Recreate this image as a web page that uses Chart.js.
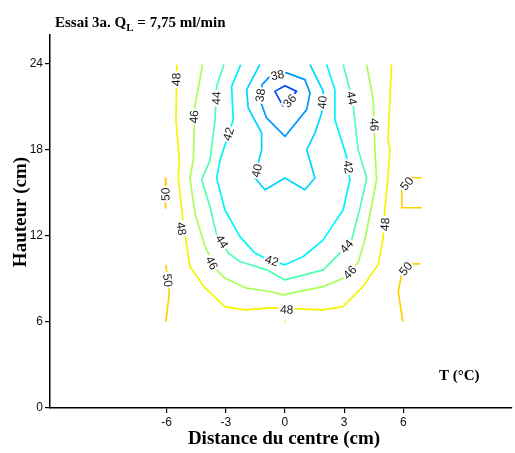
<!DOCTYPE html>
<html>
<head>
<meta charset="utf-8">
<script src="https://cdn.jsdelivr.net/npm/chart.js@4.4.0/dist/chart.umd.min.js"></script>
<style>
  body { margin: 0; background: #fff; }
</style>
</head>
<body>
<canvas id="isoChart" width="515" height="453"></canvas>
<script>
/* Isothermes T (°C) : x = distance du centre (cm), y = hauteur (cm) */
const ticksX = [-6, -3, 0, 3, 6];
const ticksY = [0, 6, 12, 18, 24];

const iso36 = [
    [[-0.09, 21.03], [-0.51, 22.07], [0, 22.47], [0.59, 22.07], [-0.09, 21.03]],
];
const iso38 = [
    [[-0.76, 23.12], [0.09, 23.36], [1.01, 22.89], [1.27, 21.96], [1.10, 20.80], [0, 18.93],
     [-0.93, 20.22], [-1.27, 21.49], [-1.16, 22.54], [-0.76, 23.12]],
];
const iso40 = [
    [[-1.27, 23.94], [-1.94, 22.19], [-1.86, 20.91], [-1.18, 19.17], [-1.18, 18.00], [-1.35, 17.08],
     [-1.52, 16.03], [-1.01, 15.21], [0, 16.03], [1.01, 15.21], [1.52, 16.03], [1.10, 18.00],
     [1.52, 19.17], [1.86, 20.57], [1.94, 22.07], [1.27, 23.94]],
];
const iso42 = [
    [[-2.24, 23.94], [-2.70, 22.42], [-2.62, 20.10], [-3.29, 17.26], [-3.46, 16.03], [-3.04, 13.82],
     [-2.28, 11.95], [-1.52, 10.80], [-0.85, 10.33], [0, 9.98], [0.93, 10.56], [1.94, 11.72],
     [2.95, 13.82], [3.29, 15.91], [3.12, 17.54], [2.53, 20.10], [2.53, 22.19], [2.11, 23.94]],
];
const iso44 = [
    [[-3.09, 23.94], [-3.46, 22.42], [-3.54, 20.10], [-3.80, 17.26], [-4.22, 15.91], [-3.80, 14.05],
     [-3.46, 12.07], [-2.87, 10.80], [-2.28, 10.21], [-0.93, 9.63], [0, 8.93], [1.94, 9.63],
     [2.78, 10.80], [3.38, 11.72], [3.80, 13.94], [4.14, 16.03], [3.71, 18.00], [3.46, 21.03],
     [3.29, 22.19], [2.95, 23.94]],
];
const iso46 = [
    [[-4.17, 23.94], [-4.56, 21.03], [-4.64, 17.31], [-4.81, 16.03], [-4.56, 13.59], [-4.05, 11.26],
     [-3.46, 9.63], [-3.04, 9.05], [-1.94, 8.35], [-0.76, 8.12], [-0.09, 7.89], [1.94, 8.46],
     [2.95, 9.05], [3.70, 10.12], [4.05, 11.72], [4.30, 13.47], [4.64, 15.91], [4.56, 18.00],
     [4.47, 21.49], [4.14, 23.94]],
];
const iso48 = [
    [[-5.47, 23.94], [-5.52, 20.10], [-5.35, 17.26], [-5.40, 16.05], [-5.15, 12.91], [-4.81, 9.86],
     [-4.05, 8.37], [-3.04, 7.07], [-2.03, 6.84], [-0.76, 6.98], [1.92, 6.84], [2.94, 7.07],
     [3.95, 8.46], [4.71, 9.98], [4.96, 11.72], [5.06, 13.82], [5.22, 16.14], [5.32, 18.00],
     [5.22, 18.70], [5.40, 23.94]],
    [[-0.03, 6.00], [0.03, 6.08]],
];
const iso50 = [
    [[-6.03, 16.03], [-6.05, 13.94]],
    [[-6.03, 9.98], [-5.86, 8.00], [-6.03, 6.02]],
    [[6.94, 16.05], [6.43, 16.05], [5.92, 15.21], [5.92, 13.96], [6.94, 13.96]],
    [[6.84, 10.05], [6.33, 10.05], [5.91, 9.35], [5.74, 8.12], [5.97, 6.02]],
];

const niveaux = [36, 38, 40, 42, 44, 46, 48, 50];
const isothermes = [iso36, iso38, iso40, iso42, iso44, iso46, iso48, iso50];

// [niveau, x, y] de chaque étiquette posée sur sa courbe
const etiquettes = [
    [36, 0.25, 21.40],
    [38, -0.38, 23.20], [38, -1.24, 21.80],
    [40, -1.42, 16.55], [40, 1.90, 21.30],
    [42, -2.85, 19.10], [42, -0.67, 10.26], [42, 3.20, 16.80],
    [44, -3.47, 21.60], [44, -3.20, 11.60], [44, 3.12, 11.26], [44, 3.37, 21.60],
    [46, -4.60, 20.30], [46, -3.71, 10.10], [46, 3.29, 9.45], [46, 4.51, 19.75],
    [48, -5.50, 22.90], [48, -5.25, 12.50], [48, 0.09, 6.86], [48, 5.08, 12.80],
    [50, -6.04, 14.90], [50, -5.95, 8.90], [50, 6.18, 15.63], [50, 6.12, 9.70],
];

const couleurs = {
    36: '#0048ff', 38: '#0096ff', 40: '#00d4ff', 42: '#00f6f6',
    44: '#50ffb0', 46: '#aaff55', 48: '#f4f400', 50: '#ffd000',
};

const datasets = [];
niveaux.forEach((niv, i) => {
    isothermes[i].forEach(trace => {
        datasets.push({
            label: 'T = ' + niv,
            data: trace.map(p => ({ x: p[0], y: p[1] })),
            showLine: true,
            borderColor: couleurs[niv],
            borderWidth: 1.7,
            borderJoinStyle: 'round',
            pointRadius: 0,
            fill: false,
            tension: 0,
        });
    });
});

/* Étiquettes des isothermes, orientées selon la courbe */
const etiquettesPlugin = {
    id: 'etiquettes',
    afterDatasetsDraw(chart) {
        const { ctx, scales: { x, y } } = chart;
        ctx.save();
        ctx.font = '12px "Liberation Sans", Arial, sans-serif';
        ctx.textAlign = 'center';
        ctx.textBaseline = 'middle';
        etiquettes.forEach(([niv, lx, ly]) => {
            const px = x.getPixelForValue(lx);
            const py = y.getPixelForValue(ly);
            // segment le plus proche pour l'angle
            let best = Infinity, ang = 0;
            isothermes[niveaux.indexOf(niv)].forEach(trace => {
                for (let k = 0; k < trace.length - 1; k++) {
                    const ax = x.getPixelForValue(trace[k][0]), ay = y.getPixelForValue(trace[k][1]);
                    const bx = x.getPixelForValue(trace[k + 1][0]), by = y.getPixelForValue(trace[k + 1][1]);
                    const dx = bx - ax, dy = by - ay;
                    const len2 = dx * dx + dy * dy || 1;
                    let t = ((px - ax) * dx + (py - ay) * dy) / len2;
                    t = Math.max(0, Math.min(1, t));
                    const qx = ax + t * dx - px, qy = ay + t * dy - py;
                    const d = qx * qx + qy * qy;
                    if (d < best) { best = d; ang = Math.atan2(dy, dx); }
                }
            });
            if (ang > Math.PI / 2 + 1e-6) ang -= Math.PI;
            if (ang < -Math.PI / 2 + 1e-6) ang += Math.PI;
            const txt = String(niv);
            const w = ctx.measureText(txt).width;
            ctx.save();
            ctx.translate(px, py);
            ctx.rotate(ang);
            ctx.fillStyle = '#fff';
            ctx.fillRect(-w / 2 - 1.5, -5.5, w + 3, 11);
            ctx.fillStyle = '#1a1a1a';
            ctx.fillText(txt, 0, 0.5);
            ctx.restore();
        });
        ctx.restore();
    },
};

/* Titres en Times gras */
const titresPlugin = {
    id: 'titres',
    afterDraw(chart) {
        const { ctx } = chart;
        const serif = '"Liberation Serif", "Times New Roman", serif';
        ctx.save();
        ctx.fillStyle = '#000';
        ctx.textBaseline = 'alphabetic';
        ctx.textAlign = 'left';
        ctx.font = 'bold 15px ' + serif;
        let tx = 55;
        const debut = 'Essai 3a. Q';
        ctx.fillText(debut, tx, 27);
        tx += ctx.measureText(debut).width;
        ctx.font = 'bold 11px ' + serif;
        ctx.fillText('L', tx, 31);
        tx += ctx.measureText('L').width;
        ctx.font = 'bold 15px ' + serif;
        ctx.fillText(' = 7,75 ml/min', tx, 27);

        ctx.fillText('T (°C)', 439, 380);

        ctx.font = 'bold 19px ' + serif;
        ctx.textAlign = 'center';
        ctx.fillText('Distance du centre (cm)', 284, 444);

        ctx.translate(26, 212);
        ctx.rotate(-Math.PI / 2);
        ctx.fillText('Hauteur (cm)', 0, 0);
        ctx.restore();
    },
};

const axeCommun = {
    type: 'linear',
    grid: { drawOnChartArea: false, drawTicks: true, tickLength: 5, color: '#000', lineWidth: 1.2 },
    border: { display: true, color: '#000', width: 1.5 },
    ticks: {
        font: { family: '"Liberation Sans", Arial, sans-serif', size: 12 },
        color: '#111',
        padding: 2,
        maxRotation: 0,
    },
};

const isoChart = new Chart(document.getElementById('isoChart').getContext('2d'), {
    type: 'scatter',
    data: { datasets: datasets },
    options: {
        responsive: false,
        animation: false,
        layout: { padding: { top: 35, right: 3, left: 0, bottom: 0 } },
        plugins: { legend: { display: false }, tooltip: { enabled: false } },
        scales: {
            x: {
                ...axeCommun,
                min: -11.9,
                max: 11.5,
                afterBuildTicks: s => { s.ticks = ticksX.map(v => ({ value: v })); },
                afterFit: s => { s.height = 45; },
            },
            y: {
                ...axeCommun,
                min: 0,
                max: 26,
                afterBuildTicks: s => { s.ticks = ticksY.map(v => ({ value: v })); },
                afterFit: s => { s.width = 50; },
            },
        },
    },
    plugins: [etiquettesPlugin, titresPlugin],
});
</script>
</body>
</html>
